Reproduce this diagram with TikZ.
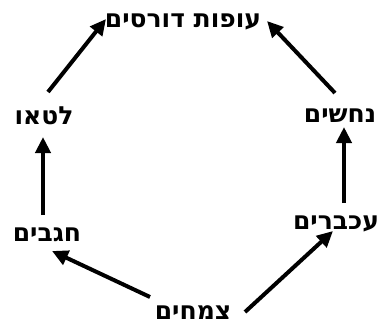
\documentclass[tikz,border=0pt]{standalone}
\usepackage{fontspec}
\usetikzlibrary{arrows.meta}
\TeXXeTstate=1
\newfontfamily\hebfont[Script=Hebrew]{DejaVu Sans Bold}
\tikzset{
  lbl/.style={inner sep=0pt, font=\hebfont\fontsize{25}{28}\selectfont},
  arr/.style={line width=4pt, -{Triangle[length=16pt,width=15pt]}}
}
\begin{document}
\begin{tikzpicture}[x=1pt,y=-1pt]
\useasboundingbox (0,0) rectangle (379,326);
\node[lbl] (top) at (183,22) {\beginR עופות דורסים\endR};
\node[lbl] (lizard) at (44,116) {\beginR לטאו\endR};
\node[lbl] (snakes) at (340,116) {\beginR נחשים\endR};
\node[lbl] (grass) at (47,235) {\beginR חגבים\endR};
\node[lbl] (mice) at (336,224) {\beginR עכברים\endR};
\node[lbl] (plants) at (193,313) {\beginR צמחים\endR};
\coordinate (a1s) at (150,297); \coordinate (a1e) at (52,251);
\coordinate (a2s) at (245,312); \coordinate (a2e) at (333,231);
\coordinate (a3s) at (43,215); \coordinate (a3e) at (43,137);
\coordinate (a4s) at (344,203); \coordinate (a4e) at (344,127);
\coordinate (a5s) at (48,92); \coordinate (a5e) at (106,19);
\coordinate (a6s) at (335,93); \coordinate (a6e) at (267,21);
\draw[arr] (a1s) -- (a1e);
\draw[arr] (a2s) -- (a2e);
\draw[arr] (a3s) -- (a3e);
\draw[arr] (a4s) -- (a4e);
\draw[arr] (a5s) -- (a5e);
\draw[arr] (a6s) -- (a6e);
\end{tikzpicture}
\end{document}
